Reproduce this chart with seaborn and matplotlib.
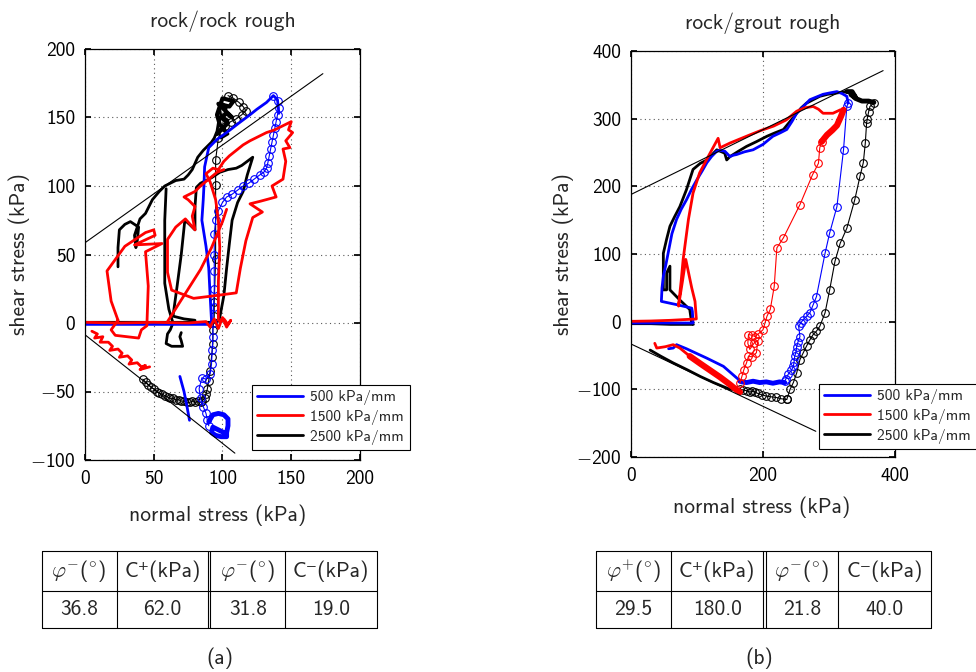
import pandas as pd
import matplotlib
matplotlib.use("Agg")
import matplotlib.pyplot as plt
import seaborn as sns
from matplotlib.lines import Line2D
from matplotlib.ticker import FuncFormatter

# ---------------- data: rock/rock rough ----------------
# 500 kPa/mm
rr500_load_x = [0, 30, 60, 92, 92, 91, 90, 88, 85, 86, 86.5, 87, 90, 96, 103, 112, 120, 125, 132, 137, 140, 141]
rr500_load_y = [-1, -1, -1, -1, 2, 20, 40, 56, 75, 90, 100, 114, 128, 134, 139, 146, 152, 156, 161, 166, 163, 153]
rr500_circ_x = [137, 140, 141, 140, 139, 138, 137, 136, 135, 134, 133, 132, 130, 127, 123, 119, 115, 111, 107, 103,
                100, 97, 95, 94, 94, 94, 94, 93.5, 93, 93, 92.5, 92, 91, 88, 85, 83, 84, 86, 88, 89, 90]
rr500_circ_y = [166, 162, 157, 152, 147, 142, 137, 132, 127, 122, 117, 113, 110, 108, 105, 102, 100, 97, 94, 92,
                88, 82, 75, 65, 50, 38, 25, 12, 0, -10, -20, -30, -37, -41, -40, -48, -55, -61, -66, -71, -75]
rr500_blob_x = [90, 93, 97, 101, 104, 104, 103, 103, 99, 95, 92, 93, 97, 101]
rr500_blob_y = [-72, -67, -66, -67, -70, -75, -80, -83, -83, -82, -80, -76, -78, -80]
rr500_neg_x = [69, 72, 74, 76]
rr500_neg_y = [-39, -50, -60, -71]

# 1500 kPa/mm
rr1500_init_x = [0, 25, 50, 75, 88, 91, 94, 97, 100, 103, 106, 104, 101, 98]
rr1500_init_y = [0.5, 0, 0.5, 0, 1, -3, 3, -4, 4, -3, 2, -1, 3, 1]
rr1500_load_x = [97, 97, 98, 97, 95, 91, 88, 93, 97, 101, 105, 110, 115, 120, 126, 132, 138, 144, 150, 148,
                 151, 146, 149, 144, 146, 144, 136, 139, 128, 120, 129, 122, 117, 113, 110, 95, 79, 63, 60, 60,
                 66, 73, 80, 78, 80, 75, 72, 80, 84, 90, 96, 101]
rr1500_load_y = [2, 30, 55, 75, 90, 103, 109, 113, 112, 118, 122, 126, 130, 133, 136, 139, 141, 144, 147, 141,
                 139, 133, 128, 127, 118, 105, 100, 92, 89, 87, 81, 77, 60, 40, 22, 20, 18, 24, 37, 61,
                 70, 76, 68, 78, 85, 90, 92, 96, 100, 105, 110, 112]
rr1500_diag_x = [60, 72, 84, 92, 100, 103]
rr1500_diag_y = [1, 20, 39, 55, 74, 83]
rr1500_loop_x = [24, 19, 16, 29, 44, 50, 51, 36, 56, 44, 46, 45, 41, 39, 22, 19, 24]
rr1500_loop_y = [2, 16, 38, 56, 66, 68, 64, 57, 58, 52, 27, -2, -5, -11, -9, -5, 2]
rr1500_neg_x = [5, 9, 7, 13, 11, 17, 20, 18, 24, 27, 25, 31, 34, 32, 38, 41, 44, 40, 47]
rr1500_neg_y = [-6, -8, -11, -10, -14, -14, -17, -20, -19, -22, -25, -24, -27, -30, -29, -32, -31, -34, -32]

# 2500 kPa/mm
rr2500_load_x = [0, 30, 60, 96, 98, 101, 103, 105, 107, 111, 115, 118, 122, 118, 114, 110, 104, 98, 92, 88,
                 84, 81, 80, 80, 76, 72.6, 70, 67, 64, 72, 80]
rr2500_load_y = [0.5, 0.5, 0.5, 0.5, 4, 20, 40, 58, 75, 88, 96, 108, 121, 118, 115, 113, 112, 110, 106, 104,
                 102, 99, 85, 68, 72, 75, 50, 27, 5, 3, 2]
rr2500_mid_x = [59, 58, 58, 58, 61, 64, 62, 60, 59, 63, 67, 71, 70, 69, 70]
rr2500_mid_y = [98, 75, 50, 29, 10, 0, -5, -8, -15, -17, -17, -17, -13, -10, -7]
rr2500_up_x = [24, 24, 25, 29, 33, 36, 39, 38, 37, 36, 40, 44, 49, 54, 58, 62, 66, 72, 75, 78,
               82, 86, 89, 92, 94, 96, 97, 99, 98, 100, 103, 101, 104, 100, 104, 99]
rr2500_up_y = [41, 55, 68, 72, 74, 72, 70, 60, 55, 64, 76, 80, 90, 96, 100, 102, 104, 105, 108, 112,
               121, 126, 129, 132, 135, 140, 146, 150, 156, 160, 158, 150, 148, 142, 138, 135]
rr2500_blob_x = [96, 100, 104, 99, 103, 107, 101, 97, 105, 108, 100, 96, 98, 102]
rr2500_blob_y = [138, 142, 146, 150, 153, 150, 156, 160, 158, 162, 164, 152, 145, 140]
rr2500_circ_x = [104, 108, 112, 115, 117, 114, 110, 106, 102, 99, 97, 95, 95, 95, 94, 94, 93, 93, 92, 91,
                 90, 89, 88, 87, 85, 84, 82, 80, 78, 76, 74, 72, 70, 68, 66, 64, 62, 60, 58, 56,
                 54, 52, 50, 48, 46, 44, 42]
rr2500_circ_y = [166, 164, 161, 158, 155, 152, 149, 147, 144, 140, 135, 119, 101, 47, 15, 5, -5, -15, -25, -35,
                 -42, -48, -52, -55, -57, -58, -57, -58, -57, -58, -58, -57, -57, -56, -56, -55, -55, -54, -53, -52,
                 -51, -50, -48, -47, -45, -43, -41]

# ---------------- data: rock/grout rough ----------------
rg500_load_x = [0, 30, 60, 94, 93, 92, 70, 46, 47, 49, 53, 57, 62, 69, 76, 84, 92, 100, 108, 115,
                122, 130, 136, 142, 146, 150, 155, 160, 172, 185, 200, 215, 226, 236, 244, 251, 261, 271, 281, 291,
                301, 312, 320, 327, 329]
rg500_load_y = [-2, -2, -2, -2, 15, 20, 25, 30, 50, 67, 85, 105, 130, 151, 166, 180, 196, 210, 223, 235,
                244, 252, 253, 252, 248, 244, 246, 247, 251, 254, 262, 274, 279, 284, 296, 308, 318, 328, 332, 336,
                338, 340, 337, 333, 323]
rg500_circ_x = [329, 327, 322, 312, 301, 294, 281, 276, 271, 266, 261, 257, 254, 256, 253, 251, 250, 248, 247, 246,
                243, 238, 235, 233]
rg500_circ_y = [323, 318, 254, 170, 131, 101, 37, 25, 13, 8, 3, -2, -7, -22, -30, -37, -45, -51, -60, -66,
                -72, -78, -84, -88]
rg500_band_x = [233, 225, 215, 205, 195, 185, 175, 168, 165]
rg500_band_y = [-90, -89, -91, -89, -90, -88, -90, -89, -88]
rg500_neg_x = [57, 64, 69, 84, 115, 140, 160, 165]
rg500_neg_y = [-40, -39, -34, -40, -54, -66, -83, -87]

rg1500_load_x = [0, 30, 60, 99, 97, 92, 83, 78, 72, 76, 79, 87, 94, 104, 117, 132, 135, 150, 165, 180,
                 198, 216, 235, 251, 263, 276, 284, 291, 306, 317, 322]
rg1500_load_y = [0.5, 1, 2, 4, 30, 50, 92, 60, 23, 60, 92, 151, 190, 220, 244, 271, 257, 264, 270, 276,
                 283, 289, 298, 311, 316, 318, 314, 308, 308, 313, 313]
rg1500_dense_x = [322, 318, 312, 305, 297, 292, 289]
rg1500_dense_y = [313, 303, 290, 283, 276, 270, 266]
rg1500_circ_x = [289, 286, 284, 275, 256, 231, 221, 217, 211, 206, 203, 200, 193, 188, 183, 178, 177, 180, 187, 192,
                 190, 183, 178, 175, 171, 168, 165]
rg1500_circ_y = [266, 257, 234, 217, 173, 124, 109, 52, 18, 8, -2, -12, -18, -22, -20, -19, -32, -41, -31, -29,
                 -46, -52, -51, -61, -71, -81, -91]
rg1500_neg_x = [36, 39, 52, 64, 74, 89]
rg1500_neg_y = [-32, -39, -37, -34, -39, -51]
rg1500_negb_x = [89, 105, 120, 135, 150, 160, 165]
rg1500_negb_y = [-51, -62, -72, -82, -93, -101, -104]

rg2500_load_x = [0, 30, 60, 94.5, 92, 89, 74, 59, 59, 54, 54, 49, 49, 54, 59, 66, 74, 84, 94, 105,
                 115, 130, 142, 145, 150, 163, 175, 190, 206, 218, 231, 241, 251, 258, 266, 276, 286, 298, 312, 327]
rg2500_load_y = [-3, -3, -4, -4, -2, 18, 32, 47, 82, 72, 47, 47, 101, 122, 141, 155, 170, 195, 225, 234,
                 239, 254, 249, 239, 244, 252, 259, 266, 274, 279, 284, 296, 308, 316, 323, 328, 333, 336, 338, 340]
rg2500_top_x = [327, 335, 340, 333, 340, 350, 360, 368]
rg2500_top_y = [340, 340, 332, 336, 330, 326, 326, 324]
rg2500_circ_x = [368, 362, 360, 358, 357, 355, 352, 347, 339, 327, 317, 309, 301, 294, 286, 281, 276, 271, 266, 261,
                 256, 251, 246, 241, 236]
rg2500_circ_y = [323, 318, 310, 300, 294, 264, 235, 215, 180, 138, 116, 89, 47, 13, -7, -14, -19, -27, -36, -46,
                 -56, -76, -90, -100, -115]
rg2500_band_x = [236, 228, 220, 212, 205, 198, 192, 188, 184, 180, 175, 170, 165]
rg2500_band_y = [-115, -114, -112, -111, -110, -108, -106, -104, -103, -104, -102, -101, -100]
rg2500_neg_x = [29, 45, 64, 85, 105, 125, 150, 165]
rg2500_neg_y = [-42, -51, -61, -71, -81, -90, -100, -101]

# Mohr-Coulomb envelopes (end points)
rr_fit_up_x, rr_fit_up_y = [0, 173], [58.6, 182]
rr_fit_lo_x, rr_fit_lo_y = [0, 109], [-8.6, -95]
rg_fit_up_x, rg_fit_up_y = [0, 382], [188, 371]
rg_fit_lo_x, rg_fit_lo_y = [0, 280], [-33, -162]

rates = ['500 kPa/mm', '1500 kPa/mm', '2500 kPa/mm']
colors = ['blue', 'red', 'black']

table_head_a = [r'$\varphi^{-}$($^{\circ}$)', 'C⁺(kPa)', r'$\varphi^{-}$($^{\circ}$)', 'C⁻(kPa)']
table_vals_a = ['36.8', '62.0', '31.8', '19.0']
table_head_b = [r'$\varphi^{+}$($^{\circ}$)', 'C⁺(kPa)', r'$\varphi^{-}$($^{\circ}$)', 'C⁻(kPa)']
table_vals_b = ['29.5', '180.0', '21.8', '40.0']

# ---------------- plotting ----------------
sns.set_theme(style="ticks", rc={
    "xtick.direction": "in", "ytick.direction": "in",
    "xtick.top": True, "ytick.right": True,
    "xtick.major.size": 4, "ytick.major.size": 4,
    "xtick.major.pad": 7, "ytick.major.pad": 7,
    "axes.edgecolor": "black", "axes.linewidth": 0.9,
})
plt.rcParams["font.family"] = ["cmss10", "DejaVu Sans"]
plt.rcParams["mathtext.fontset"] = "cm"


def frame(segs):
    parts = [pd.DataFrame({"x": xs, "y": ys, "seg": i}) for i, (xs, ys) in enumerate(segs)]
    return pd.concat(parts, ignore_index=True)


def thick(ax, segs, color, lw=2.0):
    sns.lineplot(data=frame(segs), x="x", y="y", units="seg", estimator=None, sort=False,
                 color=color, linewidth=lw, ax=ax, legend=False)


def circles(ax, segs, color):
    sns.lineplot(data=frame(segs), x="x", y="y", units="seg", estimator=None, sort=False,
                 color=color, linewidth=0.8, marker="o", markersize=5.5, markerfacecolor="none",
                 markeredgecolor=color, markeredgewidth=0.8, ax=ax, legend=False)


# sans digits, proper minus sign from math font
sf_fmt = FuncFormatter(lambda v, p: (r'$-$' if v < 0 else '') + '%d' % abs(v))

fig = plt.figure(figsize=(9.76, 6.72), dpi=100)
ax1 = fig.add_axes([85 / 976, 1 - 460 / 672, 275 / 976, 411 / 672])
ax2 = fig.add_axes([631 / 976, 1 - 457 / 672, 264 / 976, 406 / 672])

# rock/rock
thick(ax1, [(rr2500_load_x, rr2500_load_y), (rr2500_mid_x, rr2500_mid_y), (rr2500_up_x, rr2500_up_y)], 'black')
thick(ax1, [(rr2500_blob_x, rr2500_blob_y)], 'black', lw=3)
circles(ax1, [(rr2500_circ_x, rr2500_circ_y)], 'black')
thick(ax1, [(rr500_load_x, rr500_load_y), (rr500_neg_x, rr500_neg_y)], 'blue')
thick(ax1, [(rr500_blob_x, rr500_blob_y)], 'blue', lw=3.5)
circles(ax1, [(rr500_circ_x, rr500_circ_y)], 'blue')
thick(ax1, [(rr1500_init_x, rr1500_init_y), (rr1500_load_x, rr1500_load_y), (rr1500_diag_x, rr1500_diag_y),
            (rr1500_loop_x, rr1500_loop_y), (rr1500_neg_x, rr1500_neg_y)], 'red')
ax1.plot(rr_fit_up_x, rr_fit_up_y, color='black', lw=0.8)
ax1.plot(rr_fit_lo_x, rr_fit_lo_y, color='black', lw=0.8)

# rock/grout
thick(ax2, [(rg2500_load_x, rg2500_load_y), (rg2500_neg_x, rg2500_neg_y)], 'black')
thick(ax2, [(rg2500_top_x, rg2500_top_y)], 'black', lw=3.5)
circles(ax2, [(rg2500_circ_x, rg2500_circ_y), (rg2500_band_x, rg2500_band_y)], 'black')
thick(ax2, [(rg500_load_x, rg500_load_y), (rg500_neg_x, rg500_neg_y)], 'blue')
thick(ax2, [(rg500_band_x, rg500_band_y)], 'blue', lw=3.5)
circles(ax2, [(rg500_circ_x, rg500_circ_y)], 'blue')
thick(ax2, [(rg1500_load_x, rg1500_load_y), (rg1500_neg_x, rg1500_neg_y)], 'red')
thick(ax2, [(rg1500_dense_x, rg1500_dense_y), (rg1500_negb_x, rg1500_negb_y)], 'red', lw=4.5)
circles(ax2, [(rg1500_circ_x, rg1500_circ_y)], 'red')
ax2.plot(rg_fit_up_x, rg_fit_up_y, color='black', lw=0.8)
ax2.plot(rg_fit_lo_x, rg_fit_lo_y, color='black', lw=0.8)

for ax, xt, yt, title in [(ax1, range(0, 201, 50), range(-100, 201, 50), 'rock/rock rough'),
                          (ax2, range(0, 401, 200), range(-200, 401, 100), 'rock/grout rough')]:
    ax.set_xlim(xt[0], xt[-1])
    ax.set_ylim(yt[0], yt[-1])
    ax.set_xticks(list(xt))
    ax.set_yticks(list(yt))
    ax.xaxis.set_major_formatter(sf_fmt)
    ax.yaxis.set_major_formatter(sf_fmt)
    ax.grid(True, color='0.35', linestyle=(0, (1, 3)), linewidth=0.8)
    ax.tick_params(labelsize=14, colors='black')
    for s in ax.spines.values():
        s.set_visible(True)
    ax.set_title(title, fontsize=15.5, pad=16)
    ax.set_xlabel('normal stress (kPa)', fontsize=15.5)
    ax.set_ylabel('shear stress (kPa)', fontsize=15.5)

ax1.xaxis.set_label_coords(0.484, -0.108)
ax1.yaxis.set_label_coords(-0.2, 0.5)
ax2.xaxis.set_label_coords(0.496, -0.098)
ax2.yaxis.set_label_coords(-0.215, 0.5)

handles = [Line2D([0], [0], color=c, lw=2, label=r) for c, r in zip(colors, rates)]
for ax, anchor in [(ax1, (252 / 976, 1 - 450 / 672)), (ax2, (819 / 976, 1 - 449 / 672))]:
    leg = ax.legend(handles=handles, loc='lower left', bbox_to_anchor=anchor, bbox_transform=fig.transFigure,
                    fancybox=False, edgecolor='black', framealpha=1, fontsize=11.2, handlelength=2.9,
                    handletextpad=0.5, labelspacing=0.3, borderpad=0.35, borderaxespad=0)
    leg.get_frame().set_linewidth(0.8)

# tables
axt = fig.add_axes([0, 0, 1, 1])
axt.set_xlim(0, 976)
axt.set_ylim(672, 0)
axt.axis('off')
for cols, heads, vals in [([41.7, 116.7, 208.3, 210.3, 285, 376.7], table_head_a, table_vals_a),
                          ([596, 671, 763.3, 765.7, 838.3, 931], table_head_b, table_vals_b)]:
    for xv in cols:
        axt.plot([xv, xv], [551, 628], color='black', lw=0.8)
    for yv in [551, 591, 628]:
        axt.plot([cols[0], cols[-1]], [yv, yv], color='black', lw=0.8)
    centers = [(cols[0] + cols[1]) / 2, (cols[1] + cols[2]) / 2, (cols[3] + cols[4]) / 2, (cols[4] + cols[5]) / 2]
    for cx, h, v in zip(centers, heads, vals):
        axt.text(cx, 571, h, ha='center', va='center', fontsize=15.5)
        axt.text(cx, 609.5, v, ha='center', va='center', fontsize=15.5)

fig.text(220 / 976, 1 - 658 / 672, '(a)', ha='center', va='center', fontsize=15.5)
fig.text(759 / 976, 1 - 658 / 672, '(b)', ha='center', va='center', fontsize=15.5)

fig.savefig('out.png', dpi=100)
